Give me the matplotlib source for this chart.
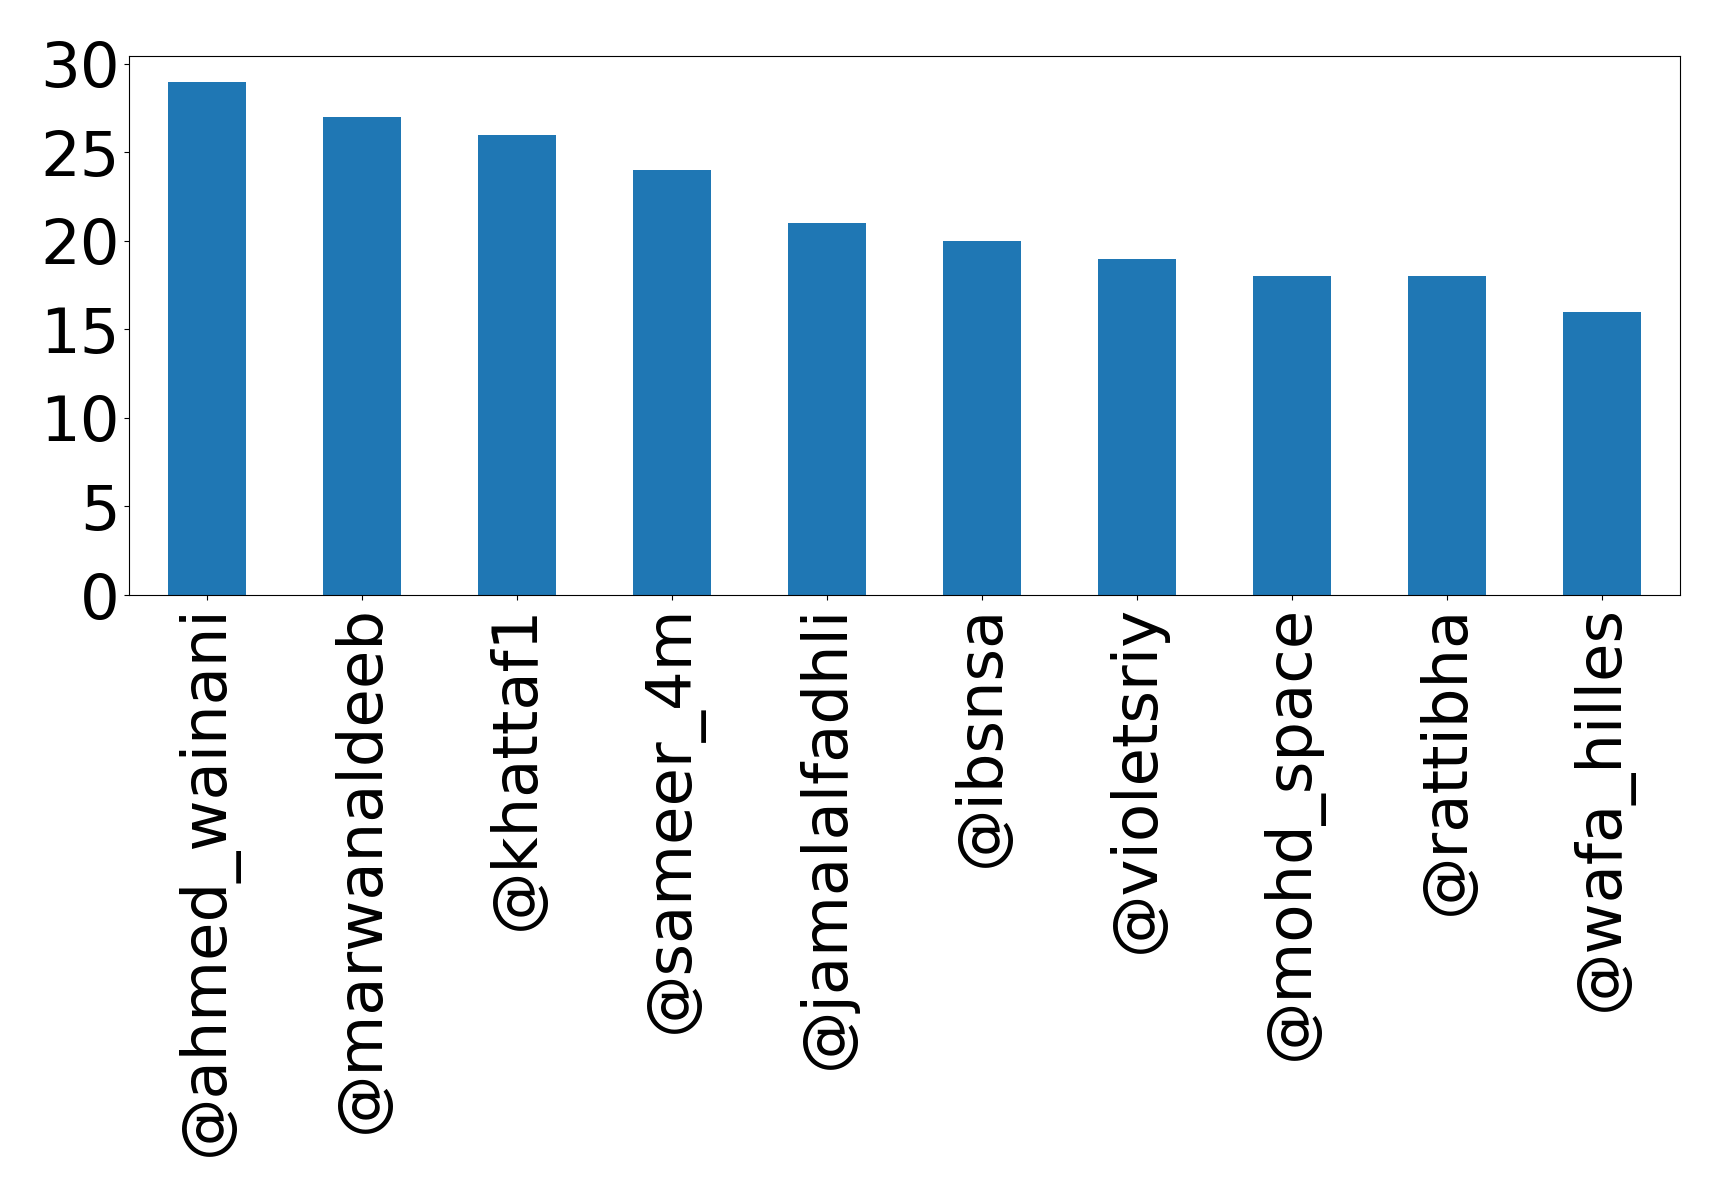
import matplotlib
matplotlib.use("Agg")
import matplotlib.pyplot as plt

# accounts and their counts
users = ["@ahmed_wainani", "@marwanaldeeb", "@khattaf1", "@sameer_4m",
         "@jamalalfadhli", "@ibsnsa", "@violetsriy", "@mohd_space",
         "@rattibha", "@wafa_hilles"]
counts = [29, 27, 26, 24, 21, 20, 19, 18, 18, 16]
yticks = [0, 5, 10, 15, 20, 25, 30]

fig = plt.figure(figsize=(17.19, 11.96), dpi=100)
ax = fig.add_axes([0.0752, 0.5025, 0.9019, 0.4507])

x = list(range(len(users)))
ax.bar(x, counts, width=0.5, color="#1f77b4")
ax.set_xlim(-0.5, len(users) - 0.5)
ax.set_ylim(0, max(counts) * 1.05)
ax.set_yticks(yticks)
ax.set_xticks(x)
ax.set_xticklabels(users, rotation=90)
ax.tick_params(axis="both", labelsize=45)

fig.savefig("out.png", dpi=100)
